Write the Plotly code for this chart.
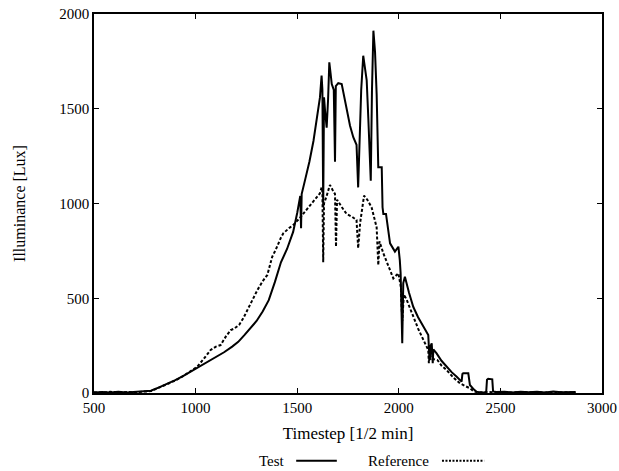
import plotly.graph_objects as go

# Test series (timestep, lux)
test_x = [500, 540, 580, 620, 660, 700, 740, 780, 820, 860, 900, 940, 980, 1020, 1060, 1100,
          1140, 1180, 1210, 1240, 1270, 1300, 1330, 1360, 1390, 1420, 1450, 1480, 1500, 1515,
          1519, 1522, 1540, 1560, 1580, 1600, 1612, 1620, 1624, 1628, 1632, 1637, 1645, 1652,
          1658, 1664, 1670, 1680, 1686, 1690, 1702, 1719, 1730, 1743, 1760, 1776, 1792, 1800,
          1806, 1815, 1825, 1834, 1842, 1850, 1858, 1862, 1868, 1875, 1883, 1891, 1899, 1916,
          1920, 1924, 1937, 1949, 1957, 1981, 1998, 2005, 2009, 2013, 2017, 2022, 2030, 2050,
          2071, 2095, 2121, 2145, 2150, 2153, 2157, 2162, 2165, 2167, 2170, 2186, 2210, 2235,
          2260, 2285, 2309, 2313, 2317, 2342, 2346, 2350, 2370, 2383, 2400, 2430, 2434, 2440,
          2460, 2464, 2480, 2520, 2560, 2600, 2640, 2680, 2720, 2760, 2800, 2840, 2870]
test_y = [3, 5, 2, 6, 3, 5, 8, 12, 30, 48, 68, 90, 115, 140, 165, 190,
          215, 245, 270, 305, 345, 380, 430, 490, 585, 690, 760, 850, 950, 1040,
          870, 1050, 1130, 1220, 1330, 1460, 1560, 1675, 1600, 980, 1560, 1490, 1400, 1550,
          1745, 1690, 1630, 1600, 1220, 1620, 1635, 1630, 1570, 1490, 1410, 1350, 1310, 1085,
          1300, 1600, 1780, 1720, 1650, 1450, 1200, 1120, 1600, 1912, 1800, 1578, 1191, 1191,
          980, 945, 945, 839, 790, 746, 772, 700, 632, 450, 262, 580, 614, 530,
          455, 400, 350, 306, 200, 174, 250, 262, 200, 157, 230, 209, 170, 139,
          110, 86, 60, 100, 104, 104, 60, 42, 18, 7, 3, 4, 70, 75,
          72, 8, 5, 6, 3, 7, 4, 6, 3, 8, 4, 6, 5]

# Reference series (timestep, lux)
ref_x = [500, 540, 580, 620, 660, 700, 740, 780, 820, 860, 900, 940, 980, 1008, 1040, 1074,
         1100, 1123, 1150, 1173, 1190, 1214, 1235, 1254, 1280, 1304, 1330, 1353, 1377, 1394,
         1420, 1432, 1460, 1481, 1510, 1546, 1580, 1612, 1620, 1624, 1628, 1632, 1645, 1661,
         1675, 1686, 1691, 1696, 1720, 1743, 1770, 1792, 1800, 1810, 1829, 1845, 1866, 1880,
         1891, 1899, 1905, 1924, 1957, 1973, 1998, 2010, 2017, 2025, 2039, 2071, 2095, 2121,
         2145, 2148, 2152, 2165, 2190, 2210, 2235, 2270, 2301, 2330, 2350, 2370, 2390, 2430,
         2470, 2520, 2560, 2600, 2640, 2680, 2720, 2760, 2800, 2840, 2870]
ref_y = [4, 2, 6, 3, 5, 4, 7, 10, 28, 45, 66, 90, 118, 139, 180, 227,
         245, 253, 300, 332, 340, 359, 395, 438, 495, 543, 590, 623, 719, 755,
         820, 843, 870, 887, 920, 966, 1015, 1054, 1085, 1060, 690, 1000, 1040, 1098,
         1070, 1050, 772, 1020, 980, 945, 930, 913, 764, 900, 1041, 1020, 980, 920,
         874, 675, 800, 737, 649, 605, 632, 560, 380, 520, 491, 403, 340, 280,
         227, 157, 200, 180, 174, 145, 121, 80, 51, 35, 25, 8, 3, 5,
         4, 6, 3, 5, 4, 6, 3, 5, 4, 6, 3]

x_ticks = [500, 1000, 1500, 2000, 2500, 3000]
y_ticks = [0, 500, 1000, 1500, 2000]

FONT = "Liberation Serif, Times New Roman, serif"

fig = go.Figure()
fig.add_trace(go.Scatter(x=test_x, y=test_y, mode="lines", name="Test",
                         line=dict(color="black", width=2)))
fig.add_trace(go.Scatter(x=ref_x, y=ref_y, mode="lines", name="Reference",
                         line=dict(color="black", width=2, dash="3px,2px")))

axis_common = dict(showline=True, linecolor="black", linewidth=1.5, mirror="ticks",
                   ticks="inside", ticklen=5, tickcolor="black", showgrid=False,
                   zeroline=False, tickfont=dict(family=FONT, size=15, color="black"))

fig.update_xaxes(range=[500, 3000], tickvals=x_ticks, ticktext=[str(v) for v in x_ticks],
                 title=dict(text="Timestep [1/2 min]", font=dict(family=FONT, size=17, color="black"),
                            standoff=12),
                 **axis_common)
fig.update_yaxes(range=[0, 2000], tickvals=y_ticks, ticktext=[str(v) for v in y_ticks],
                 title=dict(text="Illuminance [Lux]", font=dict(family=FONT, size=16, color="black"),
                            standoff=30),
                 **axis_common)

# legend drawn below the plot (text before sample, as in the reference)
LEG_Y = -0.179
fig.add_annotation(xref="paper", yref="paper", x=0.379, y=LEG_Y, text="Test",
                   showarrow=False, xanchor="right", yanchor="middle",
                   font=dict(family=FONT, size=15, color="black"))
fig.add_annotation(xref="paper", yref="paper", x=0.664, y=LEG_Y, text="Reference",
                   showarrow=False, xanchor="right", yanchor="middle",
                   font=dict(family=FONT, size=15, color="black"))
fig.add_shape(type="line", xref="paper", yref="paper", x0=0.398, x1=0.478, y0=LEG_Y, y1=LEG_Y,
              line=dict(color="black", width=2))
fig.add_shape(type="line", xref="paper", yref="paper", x0=0.685, x1=0.768, y0=LEG_Y, y1=LEG_Y,
              line=dict(color="black", width=2, dash="2px,1.5px"))

fig.update_layout(width=619, height=471, showlegend=False,
                  margin=dict(l=94, r=17, t=14, b=78, autoexpand=False),
                  paper_bgcolor="white", plot_bgcolor="white",
                  font=dict(family=FONT, color="black"))

fig.write_html("out.html")
